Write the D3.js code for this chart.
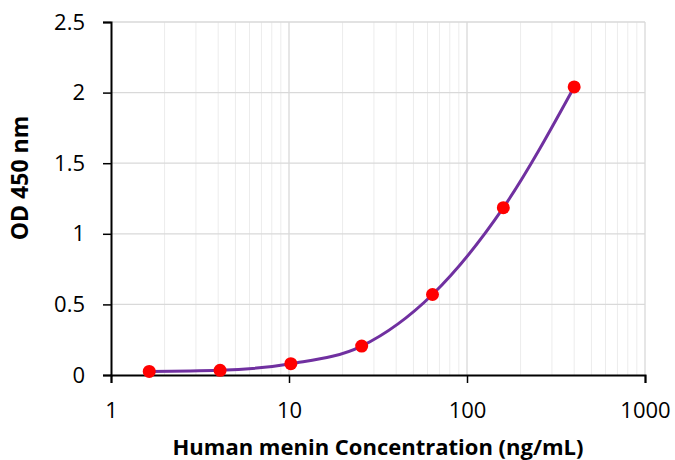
<!DOCTYPE html>
<html>
<head>
<meta charset="utf-8">
<script src="https://cdn.jsdelivr.net/npm/d3@7"></script>
<style>
  body { margin: 0; background: #fff; }
  text { font-family: "Open Sans", sans-serif; fill: #000; }
</style>
</head>
<body>
<script>
(function(){

  //chart data
  var concentration = [1.64, 4.1, 10.24, 25.6, 64, 160, 400]; //ng/mL
  var od450 = [0.025, 0.033, 0.08, 0.205, 0.57, 1.185, 2.04];
  var xTicks = [1, 10, 100, 1000];
  var yTicks = [0, 0.5, 1, 1.5, 2, 2.5];

  var width = 675, height = 460;
  var margin = {left: 111, right: 30, top: 22, bottom: 85};

  var svg = d3.select("body").append("svg")
    .attr("width", width)
    .attr("height", height);

  var x = d3.scaleLog()
    .domain([1, 1000])
    .range([margin.left, width - margin.right]);

  var y = d3.scaleLinear()
    .domain([0, 2.5])
    .range([height - margin.bottom, margin.top]);

  //minor vertical grid lines (2..9 in each decade)
  var minor = [];
  for (var d = 1; d < 1000; d *= 10){
    for (var k = 2; k <= 9; k++) minor.push(d * k);
  }
  svg.append("g").selectAll("line")
    .data(minor)
    .enter().append("line")
    .attr("x1", function(v){ return x(v); })
    .attr("x2", function(v){ return x(v); })
    .attr("y1", y(0))
    .attr("y2", y(2.5))
    .attr("stroke", "#ececec")
    .attr("stroke-width", 1);

  //major vertical grid lines
  svg.append("g").selectAll("line")
    .data(xTicks.slice(1))
    .enter().append("line")
    .attr("x1", function(v){ return x(v); })
    .attr("x2", function(v){ return x(v); })
    .attr("y1", y(0))
    .attr("y2", y(2.5))
    .attr("stroke", "#d9d9d9")
    .attr("stroke-width", 1.3);

  //horizontal grid lines
  svg.append("g").selectAll("line")
    .data(yTicks.slice(1))
    .enter().append("line")
    .attr("x1", x(1))
    .attr("x2", x(1000))
    .attr("y1", function(v){ return y(v); })
    .attr("y2", function(v){ return y(v); })
    .attr("stroke", "#d9d9d9")
    .attr("stroke-width", 1.3);

  //axes
  var xAxis = svg.append("g")
    .attr("transform", "translate(0," + y(0) + ")")
    .call(d3.axisBottom(x).tickValues(xTicks).tickFormat(d3.format("d")).tickSize(8).tickPadding(19));

  var yAxis = svg.append("g")
    .attr("transform", "translate(" + x(1) + ",0)")
    .call(d3.axisLeft(y).tickValues(yTicks).tickFormat(function(v){ return String(v); }).tickSize(8).tickPadding(18));

  [xAxis, yAxis].forEach(function(ax){
    ax.select(".domain").attr("stroke", "#000").attr("stroke-width", 2);
    ax.selectAll(".tick line").attr("stroke", "#000").attr("stroke-width", 1.5);
    ax.selectAll("text").style("font-size", "22px").attr("fill", "#000");
  });

  //fitted curve
  var pts = concentration.map(function(c, i){ return [x(c), y(od450[i])]; });
  svg.append("path")
    .datum(pts)
    .attr("fill", "none")
    .attr("stroke", "#7030a0")
    .attr("stroke-width", 3)
    .attr("d", d3.line().curve(d3.curveMonotoneX));

  //data points
  svg.append("g").selectAll("circle")
    .data(concentration)
    .enter().append("circle")
    .attr("cx", function(c){ return x(c); })
    .attr("cy", function(c, i){ return y(od450[i]); })
    .attr("r", 6.5)
    .attr("fill", "#ff0000");

  //axis titles
  svg.append("text")
    .attr("x", 378)
    .attr("y", 455)
    .attr("text-anchor", "middle")
    .style("font-size", "22px")
    .style("font-weight", "bold")
    .text("Human menin Concentration (ng/mL)");

  svg.append("text")
    .attr("transform", "translate(28,178) rotate(-90)")
    .attr("text-anchor", "middle")
    .style("font-size", "23px")
    .style("font-weight", "bold")
    .text("OD 450 nm");
})();
</script>
</body>
</html>
